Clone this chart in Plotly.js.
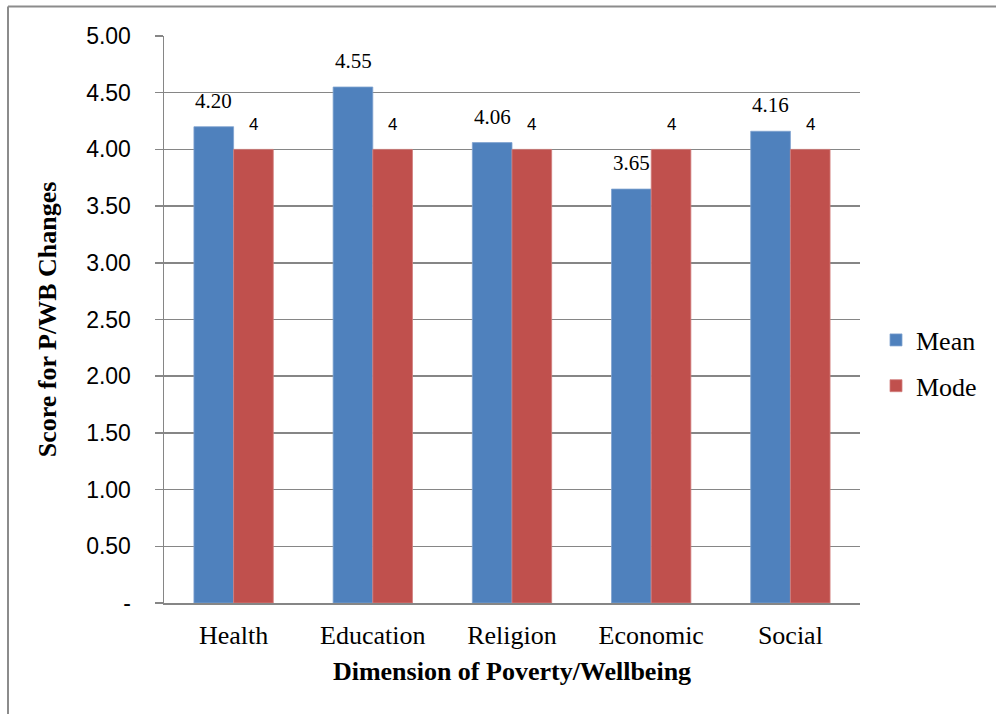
<!DOCTYPE html>
<html>
<head>
<meta charset="utf-8">
<script src="https://cdn.plot.ly/plotly-3.0.1.min.js"></script>
<style>
  html, body { margin: 0; padding: 0; background: #fff; }
  #chart { width: 996px; height: 714px; }
</style>
</head>
<body>
<div id="chart"></div>
<script>
const categories = ["Health", "Education", "Religion", "Economic", "Social"];
const meanValues = [4.20, 4.55, 4.06, 3.65, 4.16];
const modeValues = [4, 4, 4, 4, 4];
const yTickVals = [0, 0.5, 1, 1.5, 2, 2.5, 3, 3.5, 4, 4.5, 5];
const yTickText = ["-", "0.50", "1.00", "1.50", "2.00", "2.50", "3.00", "3.50", "4.00", "4.50", "5.00"];

const BLUE = "#4F81BD";
const RED = "#C0504D";
const GRID = "#868686";
const SERIF = "Liberation Serif, Times New Roman, serif";
const SANS = "Liberation Sans, Arial, sans-serif";

const traces = [
  {
    type: "bar", name: "Mean", x: categories, y: meanValues,
    marker: { color: BLUE, line: { color: "#7FA2CF", width: 0.8 } },
    legendgroup: "a", hoverinfo: "skip"
  },
  {
    type: "bar", name: "Mode", x: categories, y: modeValues,
    marker: { color: RED, line: { color: "#D27F7D", width: 0.8 } },
    legendgroup: "b", hoverinfo: "skip"
  }
];

const annotations = [];
categories.forEach((c, i) => {
  annotations.push({
    x: c, y: meanValues[i], xref: "x", yref: "y",
    text: meanValues[i].toFixed(2), showarrow: false,
    xanchor: "center", yanchor: "bottom", xshift: -19.8, yshift: 12,
    font: { family: SERIF, size: 21, color: "#000" }
  });
  annotations.push({
    x: c, y: modeValues[i], xref: "x", yref: "y",
    text: String(modeValues[i]), showarrow: false,
    xanchor: "center", yanchor: "bottom", xshift: 19.8, yshift: 13,
    font: { family: SANS, size: 17, color: "#000" }
  });
});

// chart border (top + left)
const L = 164, R = 860, T = 36, B = 603;
const px = v => (v - L) / (R - L);
const py = v => (B - v) / (B - T);

const layout = {
  width: 996, height: 714,
  margin: { l: L, r: 996 - R, t: T, b: 714 - B, pad: 0 },
  paper_bgcolor: "#fff", plot_bgcolor: "#fff",
  barmode: "group", bargap: 0.43, bargroupgap: 0,
  font: { family: SERIF, color: "#000" },
  xaxis: {
    type: "category",
    showline: true, linecolor: GRID, linewidth: 1.5,
    ticks: "", showgrid: false, zeroline: false,
    tickfont: { family: SERIF, size: 26, color: "#000" },
    ticklabelstandoff: 8,
    title: { text: "Dimension of Poverty/Wellbeing", font: { family: SERIF, size: 26, color: "#000", weight: "bold" }, standoff: 13 }
  },
  yaxis: {
    range: [0, 5], tickvals: yTickVals, ticktext: yTickText,
    showline: true, linecolor: GRID, linewidth: 1.5,
    ticks: "outside", ticklen: 8, tickcolor: GRID, tickwidth: 1.5,
    showgrid: true, gridcolor: GRID, gridwidth: 1.5, zeroline: false,
    tickfont: { family: SANS, size: 23, color: "#000" },
    ticklabelstandoff: 19,
    title: { text: "Score for P/WB Changes", font: { family: SERIF, size: 26, color: "#000", weight: "bold" }, standoff: 22 }
  },
  legend: {
    x: px(876), y: py(363), xanchor: "left", yanchor: "middle",
    font: { family: SERIF, size: 26, color: "#000" },
    tracegroupgap: 9, bgcolor: "rgba(0,0,0,0)", borderwidth: 0
  },
  annotations: annotations,
  shapes: [
    { type: "line", xref: "paper", yref: "paper", x0: px(8), x1: px(996), y0: py(6.5), y1: py(6.5), line: { color: "#8c8c8c", width: 2 } },
    { type: "line", xref: "paper", yref: "paper", x0: px(8), x1: px(8), y0: py(6.5), y1: py(714), line: { color: "#8c8c8c", width: 2 } }
  ]
};

Plotly.newPlot("chart", traces, layout, { displayModeBar: false, staticPlot: true });
</script>
</body>
</html>
